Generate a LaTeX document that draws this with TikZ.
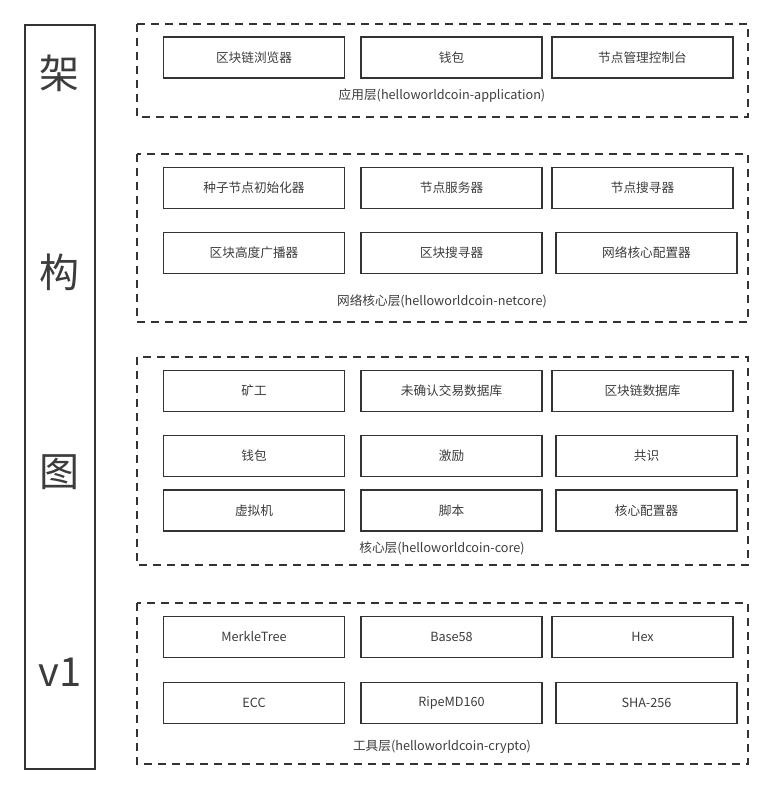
\documentclass[tikz,border=0pt]{standalone}
\usepackage{fontspec}
\setmainfont{Noto Sans CJK SC}
\definecolor{lineGray}{RGB}{51,51,51}
\definecolor{textGray}{RGB}{60,60,60}

\begin{document}
\begin{tikzpicture}[x=0.75pt,y=0.75pt,yscale=-1,xscale=1,
  blk/.style={draw=lineGray,line width=1.2pt,minimum width=136pt,minimum height=31pt,inner sep=0pt,text=textGray,font=\fontsize{9.5}{11}\selectfont},
  layerBox/.style={draw=lineGray,line width=1.2pt,dash pattern={on 6pt off 4.5pt}},
  layerLbl/.style={inner sep=0pt,text=textGray,font=\fontsize{9.5}{11}\selectfont},
  bigChar/.style={inner sep=0pt,text=textGray,font=\fontsize{30}{36}\selectfont}]
\useasboundingbox (0,0) rectangle (773,794);

%Shape: Title column
\draw [draw=lineGray,line width=1.2pt] (25,25) rectangle (95,769) ;
\node [bigChar] (t1) at (60,73) {架};
\node [bigChar] (t2) at (60,272) {构};
\node [bigChar] (t3) at (60,472) {图};
\node [bigChar] (t4) at (60,672) {v1};

%Shape: application layer
\draw [layerBox] (137,24) rectangle (748,117) ;
\node [blk] (app1) at (254,57.5) {区块链浏览器};
\node [blk] (app2) at (451.5,57.5) {钱包};
\node [blk] (app3) at (642.5,57.5) {节点管理控制台};
\node [layerLbl] (appLbl) at (442,96) {应用层(helloworldcoin-application)};

%Shape: netcore layer
\draw [layerBox] (137,154) rectangle (748,322) ;
\node [blk] (net1) at (254,188) {种子节点初始化器};
\node [blk] (net2) at (451.5,188) {节点服务器};
\node [blk] (net3) at (642.5,188) {节点搜寻器};
\node [blk] (net4) at (254,253) {区块高度广播器};
\node [blk] (net5) at (451.5,253) {区块搜寻器};
\node [blk] (net6) at (646.5,253) {网络核心配置器};
\node [layerLbl] (netLbl) at (442,301) {网络核心层(helloworldcoin-netcore)};

%Shape: core layer
\draw [layerBox] (137,357) rectangle (748,565) ;
\node [blk] (core1) at (254,391) {矿工};
\node [blk] (core2) at (451.5,391) {未确认交易数据库};
\node [blk] (core3) at (642.5,391) {区块链数据库};
\node [blk] (core4) at (254,456) {钱包};
\node [blk] (core5) at (451.5,456) {激励};
\node [blk] (core6) at (646.5,456) {共识};
\node [blk] (core7) at (254,510.5) {虚拟机};
\node [blk] (core8) at (451.5,510.5) {脚本};
\node [blk] (core9) at (646.5,510.5) {核心配置器};
\node [layerLbl] (coreLbl) at (442,548) {核心层(helloworldcoin-core)};

%Shape: crypto layer
\draw [layerBox] (137,603) rectangle (748,764) ;
\node [blk] (util1) at (254,637) {MerkleTree};
\node [blk] (util2) at (451.5,637) {Base58};
\node [blk] (util3) at (642.5,637) {Hex};
\node [blk] (util4) at (254,703) {ECC};
\node [blk] (util5) at (451.5,703) {RipeMD160};
\node [blk] (util6) at (646.5,703) {SHA-256};
\node [layerLbl] (utilLbl) at (442,747) {工具层(helloworldcoin-crypto)};

\end{tikzpicture}
\end{document}
